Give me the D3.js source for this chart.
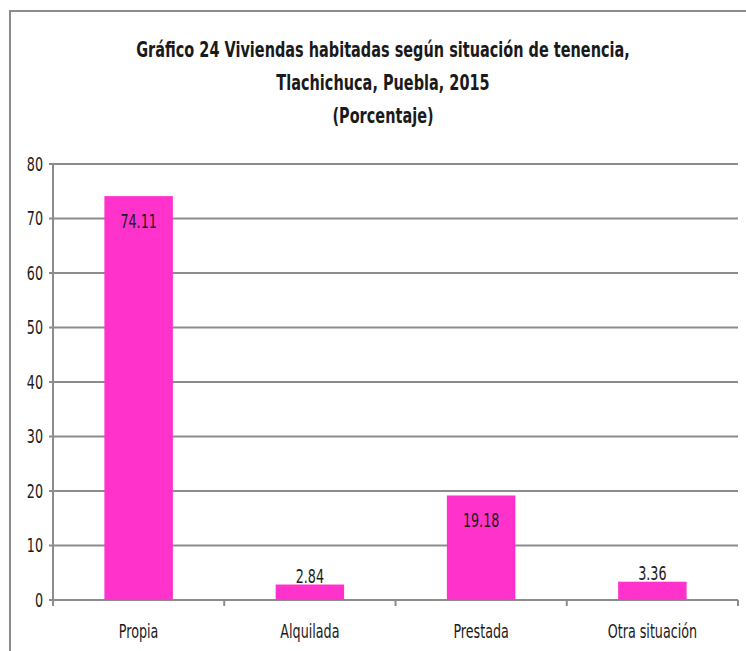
<!DOCTYPE html>
<meta charset="utf-8">
<html>
<head>
    <script src="https://d3js.org/d3.v7.min.js"></script>
    <style>
        body { margin: 0; background: #fff; }
        text { font-family: "DejaVu Sans", sans-serif; fill: #1a1a1a; }
    </style>
    <title>Gráfico 24 Viviendas habitadas</title>
</head>
<body>
    <div id="chart"></div>
    <script>
        // data
        var categories = ["Propia", "Alquilada", "Prestada", "Otra situación"];
        var values = [74.11, 2.84, 19.18, 3.36];
        var yTicks = [0, 10, 20, 30, 40, 50, 60, 70, 80];
        var titleLines = [
            "Gráfico 24 Viviendas habitadas según situación de tenencia,",
            "Tlachichuca, Puebla, 2015",
            "(Porcentaje)"
        ];

        var W = 746, H = 651;
        var margin = { top: 164, right: 8, bottom: 51, left: 53 };
        var width = W - margin.left - margin.right;
        var height = H - margin.top - margin.bottom;

        var svg = d3.select("#chart").append("svg")
            .attr("width", W)
            .attr("height", H);

        // squeeze text horizontally so it looks like a condensed font
        function condense(sel, k) {
            sel.each(function () {
                var t = d3.select(this);
                var tx = +t.attr("x"), ty = +t.attr("y");
                t.attr("x", 0).attr("y", 0)
                    .attr("transform", "translate(" + tx + "," + ty + ") scale(" + k + ",1)");
            });
        }

        // chart frame (only top and left visible)
        svg.append("path")
            .attr("d", "M10," + H + " L10,11 L" + W + ",11")
            .attr("fill", "none")
            .attr("stroke", "#8c8c8c")
            .attr("stroke-width", 2);

        // title
        svg.selectAll(".title")
            .data(titleLines)
            .enter()
            .append("text")
            .attr("class", "title")
            .attr("x", 383)
            .attr("y", function (d, i) { return 57 + i * 33; })
            .attr("text-anchor", "middle")
            .style("font-weight", "bold")
            .style("font-size", "21px")
            .text(function (d) { return d; })
            .call(condense, 0.69);

        var g = svg.append("g")
            .attr("transform", "translate(" + margin.left + "," + margin.top + ")");

        var x = d3.scaleBand()
            .domain(categories)
            .range([0, width])
            .paddingInner(0.6)
            .paddingOuter(0.3);

        var y = d3.scaleLinear()
            .domain([0, 80])
            .range([height, 0]);

        // gridlines
        g.selectAll(".grid")
            .data(yTicks)
            .enter()
            .append("line")
            .attr("x1", -4)
            .attr("x2", width)
            .attr("y1", function (d) { return y(d); })
            .attr("y2", function (d) { return y(d); })
            .attr("stroke", "#8c8c8c")
            .attr("stroke-width", 2);

        // y axis line
        g.append("line")
            .attr("x1", 0).attr("x2", 0)
            .attr("y1", 0).attr("y2", height)
            .attr("stroke", "#8c8c8c")
            .attr("stroke-width", 2);

        // y labels
        g.selectAll(".ylab")
            .data(yTicks)
            .enter()
            .append("text")
            .attr("x", -10)
            .attr("y", function (d) { return y(d); })
            .attr("dy", "0.36em")
            .attr("text-anchor", "end")
            .style("font-size", "19px")
            .text(function (d) { return d; })
            .call(condense, 0.67);

        // category boundary ticks on x axis
        var step = width / categories.length;
        g.selectAll(".xtick")
            .data(d3.range(categories.length + 1))
            .enter()
            .append("line")
            .attr("x1", function (d) { return d * step; })
            .attr("x2", function (d) { return d * step; })
            .attr("y1", height)
            .attr("y2", height + 6)
            .attr("stroke", "#8c8c8c")
            .attr("stroke-width", 2);

        // bars
        g.selectAll(".bar")
            .data(values)
            .enter()
            .append("rect")
            .attr("x", function (d, i) { return x(categories[i]); })
            .attr("y", function (d) { return y(d); })
            .attr("width", x.bandwidth())
            .attr("height", function (d) { return height - y(d); })
            .attr("fill", "#ff33cc");

        // value labels
        g.selectAll(".vlab")
            .data(values)
            .enter()
            .append("text")
            .attr("x", function (d, i) { return x(categories[i]) + x.bandwidth() / 2; })
            .attr("y", function (d) {
                return (height - y(d)) > 40 ? y(d) + 32 : y(d) - 2;
            })
            .attr("text-anchor", "middle")
            .style("font-size", "19px")
            .text(function (d) { return d.toFixed(2); })
            .call(condense, 0.67);

        // category labels
        g.selectAll(".xlab")
            .data(categories)
            .enter()
            .append("text")
            .attr("x", function (d) { return x(d) + x.bandwidth() / 2; })
            .attr("y", height + 38)
            .attr("text-anchor", "middle")
            .style("font-size", "19px")
            .text(function (d) { return d; })
            .call(condense, 0.67);
    </script>
</body>
</html>
